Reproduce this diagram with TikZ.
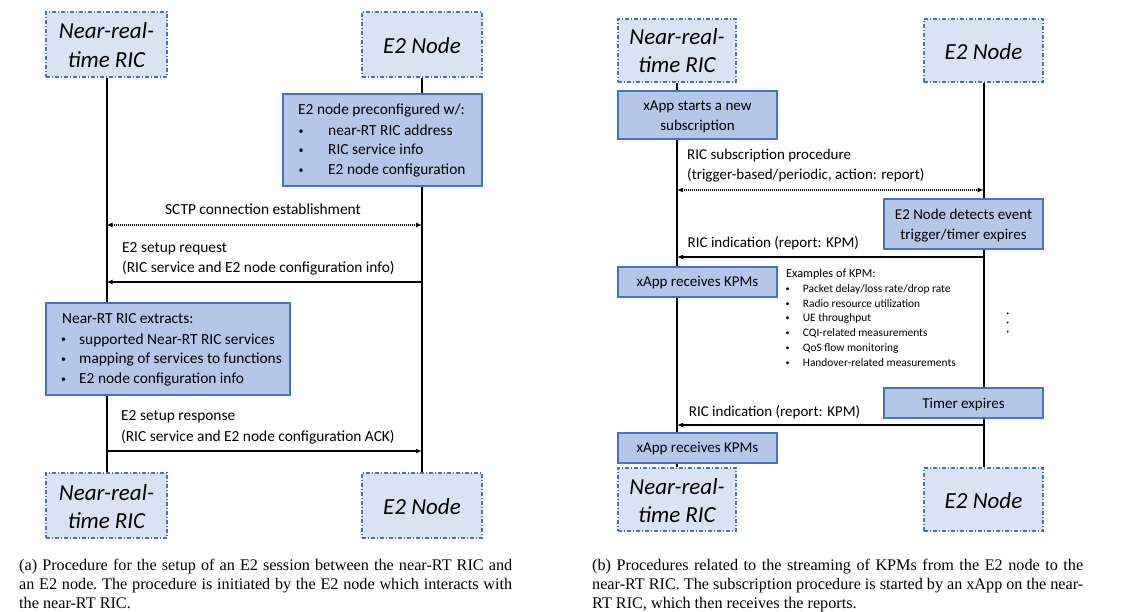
\documentclass[tikz,border=0pt]{standalone}
\usepackage{fontspec}
\setmainfont{Carlito}
\newfontfamily\capfont{Liberation Serif}
\usetikzlibrary{arrows.meta}
\definecolor{hdrfill}{HTML}{DAE3F3}
\definecolor{hdrline}{HTML}{4472C4}
\definecolor{actfill}{HTML}{B4C7E7}
\definecolor{actline}{HTML}{4472C4}
\newcommand{\smallbul}{\raisebox{1.3bp}{\fontsize{10bp}{10bp}\selectfont •}}
\newcommand{\tinybul}{\raisebox{1bp}{\fontsize{8bp}{8bp}\selectfont •}}
\begin{document}
\begin{tikzpicture}[x=1bp,y=-1bp,
  hdrbox/.style={draw=hdrline, fill=hdrfill, line width=1.2bp,
    dash pattern=on 4bp off 2bp on 1bp off 2bp, inner sep=0pt},
  actbox/.style={draw=actline, fill=actfill, line width=1.3bp, inner sep=0pt},
  hdrtxt/.style={font=\fontsize{23bp}{28bp}\selectfont\itshape, inner sep=0pt, anchor=base},
  txtL/.style={font=\fontsize{15.4bp}{19bp}\selectfont, inner sep=0pt, anchor=base west},
  txtR/.style={font=\fontsize{15bp}{19bp}\selectfont, inner sep=0pt, anchor=base west},
  kpmhead/.style={font=\fontsize{12.3bp}{15bp}\selectfont, inner sep=0pt, anchor=base west},
  kpm/.style={font=\fontsize{11.4bp}{14bp}\selectfont, inner sep=0pt, anchor=base west},
  capt/.style={font=\capfont\fontsize{16.2bp}{19bp}\selectfont\frenchspacing, inner sep=0pt,
    anchor=base west, align=justify},
  life/.style={line width=2bp},
  msg/.style={line width=1.2bp, -{Latex[length=6bp,width=5bp]}},
  dmsg/.style={line width=1.1bp, dash pattern=on 1bp off 1bp,
    {Latex[length=6bp,width=5bp]}-{Latex[length=6bp,width=5bp]}}]
\useasboundingbox (0,0) rectangle (1131,612);

% ---------------- (a) E2 setup ----------------
\node[hdrbox, minimum width=121bp, minimum height=65bp] (ricA) at (106.5,44.5) {};
\node[hdrbox, minimum width=120bp, minimum height=65bp] (e2A) at (422,44.5) {};
\node[hdrbox, minimum width=121bp, minimum height=65bp] (ricAb) at (106.5,505.5) {};
\node[hdrbox, minimum width=120bp, minimum height=65bp] (e2Ab) at (422,505.5) {};
\node[hdrtxt] (ricAt1) at (106.5,39) {Near-real-};
\node[hdrtxt] (ricAt2) at (106.5,68) {time RIC};
\node[hdrtxt] (e2At) at (422,53.5) {E2 Node};
\node[hdrtxt] (ricAbt1) at (106.5,500) {Near-real-};
\node[hdrtxt] (ricAbt2) at (106.5,528.5) {time RIC};
\node[hdrtxt] (e2Abt) at (422,514.5) {E2 Node};

\draw[life] (ricA.south) -- (ricAb.north);
\draw[life] (e2A.south) -- (e2Ab.north);

\node[actbox, minimum width=199bp, minimum height=92bp] (pre) at (382.5,140) {};
\node[txtL] (pre0) at (298,115) {E2 node preconfigured w/:};
\node[txtL] (pre1b) at (298.5,135.5) {\smallbul};
\node[txtL] (pre1) at (328,135.5) {near-RT RIC address};
\node[txtL] (pre2b) at (298.5,155) {\smallbul};
\node[txtL] (pre2) at (328,155) {RIC service info};
\node[txtL] (pre3b) at (298.5,175) {\smallbul};
\node[txtL] (pre3) at (328,175) {E2 node configuration};

\node[txtL, anchor=base] (sctp) at (263,215) {SCTP connection establishment};
\draw[dmsg] (ricA.south |- 0,225) -- (e2A.south |- 0,225);

\node[txtL] (req1) at (122,253) {E2 setup request};
\node[txtL] (req2) at (122,273) {(RIC service and E2 node configuration info)};
\draw[msg] (e2A.south |- 0,282) -- (ricA.south |- 0,282);

\node[actbox, minimum width=244bp, minimum height=92bp] (ext) at (168,349) {};
\node[txtL] (ext0) at (62,323.5) {Near-RT RIC extracts:};
\node[txtL] (ext1b) at (61,344) {\smallbul};
\node[txtL] (ext1) at (79,344) {supported Near-RT RIC services};
\node[txtL] (ext2b) at (61,363.5) {\smallbul};
\node[txtL] (ext2) at (79,363.5) {mapping of services to functions};
\node[txtL] (ext3b) at (61,383.3) {\smallbul};
\node[txtL] (ext3) at (79,383.3) {E2 node configuration info};

\node[txtL] (rsp1) at (121,420) {E2 setup response};
\node[txtL] (rsp2) at (121,441.5) {(RIC service and E2 node configuration ACK)};
\draw[msg] (ricA.south |- 0,451) -- (e2A.south |- 0,451);

\node[capt, text width=493bp] (capA) at (19,570) {(a) Procedure for the setup of an E2 session between the near-RT RIC and\linebreak an E2 node. The procedure is initiated by the E2 node which interacts with\linebreak the near-RT RIC.};

% ---------------- (b) KPM streaming ----------------
\node[hdrbox, minimum width=118bp, minimum height=63bp] (ricB) at (677,50.5) {};
\node[hdrbox, minimum width=119bp, minimum height=63bp] (e2B) at (983.5,50.5) {};
\node[hdrbox, minimum width=118bp, minimum height=63bp] (ricBb) at (677,499.5) {};
\node[hdrbox, minimum width=119bp, minimum height=63bp] (e2Bb) at (983.5,499.5) {};
\node[hdrtxt] (ricBt1) at (677,45) {Near-real-};
\node[hdrtxt] (ricBt2) at (677,73) {time RIC};
\node[hdrtxt] (e2Bt) at (983.5,59.5) {E2 Node};
\node[hdrtxt] (ricBbt1) at (677,494) {Near-real-};
\node[hdrtxt] (ricBbt2) at (677,522.5) {time RIC};
\node[hdrtxt] (e2Bbt) at (983.5,508.5) {E2 Node};

\draw[life] (ricB.south) -- (ricBb.north);
\draw[life] (e2B.south) -- (e2Bb.north);

\node[actbox, minimum width=159bp, minimum height=48bp] (start) at (697.5,115) {};
\node[txtR, anchor=base] (start1) at (697.5,111) {xApp starts a new};
\node[txtR, anchor=base] (start2) at (697.5,131) {subscription};

\node[txtR] (sub1) at (687,160) {RIC subscription procedure};
\node[txtR] (sub2) at (687,180) {(trigger-based/periodic, action: report)};
\draw[dmsg] (ricB.south |- 0,190) -- (e2B.south |- 0,190);

\node[actbox, minimum width=159bp, minimum height=50bp] (det) at (963.5,224) {};
\node[txtR, anchor=base] (det1) at (963.5,220) {E2 Node detects event};
\node[txtR, anchor=base] (det2) at (963.5,239.5) {trigger/timer expires};

\node[txtR] (ind1) at (687.5,247.7) {RIC indication (report: KPM)};
\draw[msg] (e2B.south |- 0,257) -- (ricB.south |- 0,257);

\node[actbox, minimum width=159bp, minimum height=30bp] (rcv1) at (697.5,282) {};
\node[txtR, anchor=base] (rcv1t) at (697.5,286.7) {xApp receives KPMs};

\node[kpmhead] (kh) at (786,277.7) {Examples of KPM:};
\foreach \y/\t [count=\i] in {292.5/Packet delay\slash loss rate\slash drop rate,
    307.2/Radio resource utilization, 321.9/UE throughput,
    336.6/CQI-related measurements, 351.3/QoS flow monitoring,
    366/Handover-related measurements}{
  \node[kpm] (kb\i) at (785.5,\y) {\tinybul};
  \node[kpm] (kt\i) at (802.7,\y) {\t};
}

\foreach \y [count=\i] in {313.3,322.5,331.7}
  \fill (1007.7,\y) circle (1bp) coordinate (vd\i);

\node[actbox, minimum width=159bp, minimum height=30bp] (timer) at (963.5,403) {};
\node[txtR, anchor=base] (timert) at (963.5,408.3) {Timer expires};

\node[txtR] (ind2) at (688.7,416) {RIC indication (report: KPM)};
\draw[msg] (e2B.south |- 0,425) -- (ricB.south |- 0,425);

\node[actbox, minimum width=159bp, minimum height=30bp] (rcv2) at (697.5,448) {};
\node[txtR, anchor=base] (rcv2t) at (697.5,452.7) {xApp receives KPMs};

\node[capt, text width=491bp] (capB) at (592,570) {(b) Procedures related to the streaming of KPMs from the E2 node to the\linebreak near-RT RIC. The subscription procedure is started by an xApp on the near-\linebreak RT RIC, which then receives the reports.};
\end{tikzpicture}
\end{document}
